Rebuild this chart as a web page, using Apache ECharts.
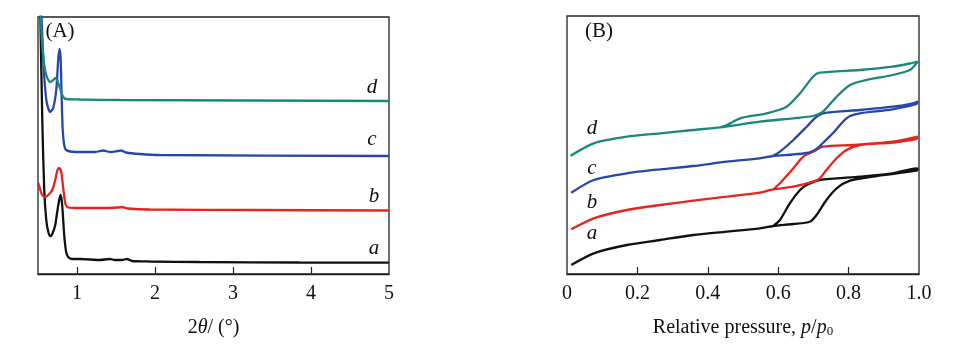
<!DOCTYPE html>
<html><head><meta charset="utf-8">
<script src="https://cdn.jsdelivr.net/npm/echarts@6/dist/echarts.min.js"></script>
<style>html,body{margin:0;padding:0;background:#fff}#c{width:978px;height:355px}</style>
</head><body><div id="c"></div>
<script>
// Panel A: XRD (2theta, arbitrary intensity)
const xrdA = [[0.529,264],[0.555,154],[0.580,84],[0.606,54],[0.632,42],[0.657,38],[0.683,40],[0.721,49],[0.746,62],[0.772,74],[0.791,79],[0.810,69],[0.836,39],[0.861,22],[0.887,17],[0.938,15],[1.04,15],[1.296,14],[1.42,15],[1.487,14],[1.577,14],[1.64,15],[1.704,13],[1.934,12.5],[2.57,12],[3.85,11.5],[5,11.3]];
const xrdB = [[0.504,91],[0.529,84],[0.555,79],[0.593,77],[0.632,79],[0.683,84],[0.721,94],[0.746,103],[0.772,106],[0.798,102],[0.823,86],[0.849,71],[0.874,67],[0.976,66],[1.296,66],[1.526,66.5],[1.577,67],[1.653,65.5],[1.934,64.5],[3.21,64],[5,63.5]];
const xrdC = [[0.542,264],[0.568,214],[0.593,184],[0.619,169],[0.657,162],[0.695,166],[0.734,184],[0.759,214],[0.776,225],[0.791,214],[0.804,174],[0.817,144],[0.836,129],[0.861,124],[0.976,122],[1.232,122],[1.334,123.5],[1.423,122],[1.526,123],[1.564,123.5],[1.628,121.5],[1.806,120],[2.06,119],[5,118]];
const xrdD = [[0.529,264],[0.555,229],[0.580,209],[0.606,199],[0.632,194],[0.657,192],[0.695,194],[0.721,196],[0.746,194],[0.772,188],[0.798,182],[0.823,177],[0.861,175],[1.04,174.5],[1.551,174],[5,173]];
// Panel B: N2 isotherms (p/p0, arbitrary offset volume), adsorption then desorption
const isoA = [[0.012,9],[0.076,20.7],[0.170,29],[0.265,34],[0.359,39],[0.454,42.3],[0.548,45.7],[0.586,48],[0.643,50],[0.690,52.3],[0.709,59],[0.737,74],[0.766,85.7],[0.804,93.3],[0.879,98],[0.993,103.3],[0.996,105],[0.993,105.7],[0.926,100.7],[0.832,97.3],[0.718,94],[0.681,89],[0.662,84],[0.633,70.7],[0.605,54],[0.586,48]];
const isoB = [[0.012,44.7],[0.076,55.7],[0.170,64],[0.265,69],[0.359,73.3],[0.454,77.3],[0.548,81.3],[0.586,84.7],[0.643,87.3],[0.699,92.3],[0.718,95.7],[0.737,104],[0.766,115.7],[0.794,124],[0.832,129],[0.925,131.5],[0.993,135],[0.996,137.5],[0.925,132.3],[0.812,129],[0.727,127.3],[0.699,122.3],[0.671,117.3],[0.643,105.7],[0.605,90.7],[0.586,84.7]];
const isoC = [[0.012,81.3],[0.076,94],[0.170,100.7],[0.265,104.7],[0.359,108],[0.454,112.3],[0.548,115.7],[0.585,118],[0.642,119.5],[0.681,121],[0.699,123],[0.713,126],[0.727,131],[0.756,141],[0.784,152.3],[0.804,158],[0.832,160.7],[0.925,164.7],[0.993,170],[0.996,172.5],[0.983,170.7],[0.926,167.3],[0.832,164],[0.737,161.3],[0.709,157.3],[0.681,147.3],[0.643,134],[0.605,122.3],[0.585,118]];
const isoD = [[0.010,118.3],[0.076,130.7],[0.170,137.3],[0.265,140.7],[0.358,144],[0.435,146.7],[0.548,152.3],[0.642,155.7],[0.699,158],[0.727,162.3],[0.766,177.3],[0.804,189],[0.851,194],[0.925,199],[0.974,204],[0.993,210.7],[0.996,212.5],[0.974,210.5],[0.925,207.3],[0.832,204],[0.718,201.3],[0.699,197.3],[0.662,180.7],[0.624,167.3],[0.567,160.7],[0.492,155.7],[0.454,149],[0.435,146.7]];
const ticksA = [1,2,3,4], labelsA = [1,2,3,4,5];
const ticksB = [0.2,0.4,0.6,0.8], labelsB = [0,0.2,0.4,0.6,0.8,1.0];
const colors = {a:'#111111', b:'#e8231c', c:'#2647aa', d:'#1b877c'};

const serif = '"Liberation Serif","DejaVu Serif",serif';
const chart = echarts.init(document.getElementById('c'), null, {renderer:'canvas'});
function xAx(idx, min, max, ticks, labels, name, fmt){
  return {type:'value', gridIndex:idx, min:min, max:max,
    axisLine:{show:true, onZero:false, lineStyle:{color:'#222', width:1.3}},
    axisTick:{show:true, inside:true, length:7, customValues:ticks, lineStyle:{color:'#222', width:1.2}},
    axisLabel:{customValues:labels, margin:10, color:'#111', fontFamily:serif, fontSize:20, formatter:fmt},
    splitLine:{show:false},
    name:name, nameLocation:'middle', nameGap:44,
    nameTextStyle:{color:'#111', fontFamily:serif, fontSize:20,
      rich:{i:{fontStyle:'italic', fontFamily:serif, fontSize:20, color:'#111'},
            s:{fontFamily:serif, fontSize:13, color:'#111', verticalAlign:'bottom', padding:[7,0,0,0]}}}
  };
}
function yAx(idx, max){
  return {type:'value', gridIndex:idx, min:0, max:max, show:true,
    axisLine:{show:false}, axisTick:{show:false}, axisLabel:{show:false}, splitLine:{show:false}};
}
function ln(data, color, xi){
  return {type:'line', xAxisIndex:xi, yAxisIndex:xi, data:data, showSymbol:false, smooth:0.25,
    lineStyle:{color:color, width:2.3}, clip:true, silent:true};
}
function txt(x, y, s, italic){
  return {type:'text', x:x, y:y, style:{text:s, font:(italic?'italic ':'')+'21px '+serif, fill:'#111', textAlign:'center', textVerticalAlign:'middle'}};
}
chart.setOption({
  animation:false,
  backgroundColor:'#fff',
  grid:[
    {left:38, right:589, top:17, bottom:81, show:true, borderColor:'#222', borderWidth:1.3},
    {left:567, right:59, top:16, bottom:81, show:true, borderColor:'#222', borderWidth:1.3}
  ],
  xAxis:[
    xAx(0, 0.5, 5, ticksA, labelsA, '2{i|θ}/ (°)', v=>String(v)),
    xAx(1, 0, 1, ticksB, labelsB, 'Relative pressure, {i|p}/{i|p}{s|0}', v=> v===1 ? '1.0' : String(v))
  ],
  yAxis:[yAx(0, 257), yAx(1, 258)],
  series:[
    ln(xrdA, colors.a, 0), ln(xrdB, colors.b, 0), ln(xrdC, colors.c, 0), ln(xrdD, colors.d, 0),
    ln(isoA, colors.a, 1), ln(isoB, colors.b, 1), ln(isoC, colors.c, 1), ln(isoD, colors.d, 1)
  ],
  graphic:[
    txt(60, 31, '(A)', false),
    txt(372, 87, 'd', true), txt(372, 139, 'c', true), txt(374, 196, 'b', true), txt(374, 248, 'a', true),
    txt(599, 31, '(B)', false),
    txt(592, 128, 'd', true), txt(592, 168, 'c', true), txt(592, 202, 'b', true), txt(592, 233, 'a', true)
  ]
});
</script></body></html>
